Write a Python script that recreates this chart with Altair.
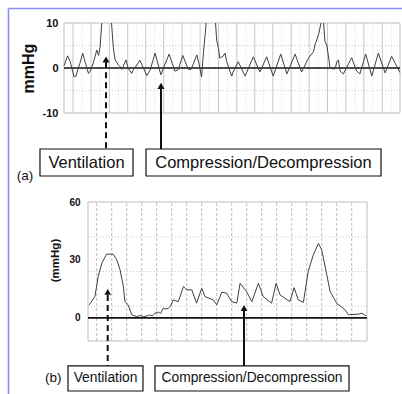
import altair as alt
import pandas as pd

FONT = "Liberation Sans"

# ---------------- Panel (a): pressure trace (time s, mmHg) ----------------
# seg splits the trace where it leaves the top of the scale (ventilation spikes)
a_t = [0.00, 0.10, 0.17, 0.28, 0.33, 0.39, 0.44, 0.52, 0.58, 0.68, 0.72, 0.81, 0.91, 0.96, 1.00, 1.05,
       1.32, 1.37, 1.42, 1.51, 1.56, 1.61, 1.72, 1.78, 1.88, 1.92, 2.11, 2.30, 2.39, 2.53, 2.69, 2.92,
       3.08, 3.17, 3.30, 3.45, 3.53, 3.69, 3.75, 3.82, 3.88, 3.95,
       4.21, 4.24, 4.29, 4.33, 4.42, 4.47, 4.52, 4.61, 4.66, 4.69, 4.84, 5.03, 5.26, 5.44, 5.63, 5.81,
       6.02, 6.19, 6.42, 6.60, 6.79, 6.93, 6.97, 7.07, 7.14,
       7.21, 7.25, 7.30, 7.34, 7.39, 7.47, 7.53, 7.58, 7.62, 7.67, 7.76, 7.99, 8.13, 8.22, 8.38, 8.55,
       8.73, 8.92, 9.10, 9.33]
a_v = [0.5, 2.7, 1.5, -2.0, -1.8, -0.2, 1.0, 3.3, 1.5, -1.2, -0.8, 1.0, 4.0, 2.8, 4.5, 10.0,
       10.0, 4.5, 1.8, 0.7, 0.3, -0.3, 1.8, 0.0, -1.2, -0.5, 1.7, -1.7, -0.5, 3.3, -1.5, 3.1,
       -0.7, -0.4, 2.8, -0.3, -0.3, 2.9, 1.0, -2.0, 4.0, 10.0,
       10.0, 6.2, 4.4, 2.2, 2.6, 3.3, 1.4, -0.7, -1.8, -1.0, 1.4, -1.8, 2.5, -0.9, 2.5, -1.8,
       3.1, -1.3, 3.1, -0.9, 2.2, 3.6, 5.1, 7.4, 10.0,
       10.0, 5.8, 5.1, 2.9, 0.0, -0.2, -0.2, 1.4, 1.8, -0.7, -1.3, 2.3, -0.7, -1.3, 3.1, -1.8,
       3.3, -1.1, 2.6, -1.0]
a_seg = [0] * 16 + [1] * 26 + [2] * 25 + [3] * 20

a_ticks = [-10, 0, 10]
a_hgrid = [-5, 5]
a_vgrid = [0.25, 0.75, 1.26, 1.77, 2.27, 2.77, 3.28, 3.78, 4.29, 4.80, 5.30, 5.80, 6.31, 6.81,
           7.32, 7.83, 8.33, 8.84]
a_vminor = [0.50, 1.00, 1.51, 2.02, 2.52, 3.02, 3.53, 4.03, 4.54, 5.05, 5.55, 6.05, 6.56, 7.06,
            7.57, 8.08, 8.58, 9.09]

# ---------------- Panel (b): pressure trace (time s, mmHg) ----------------
b_t = [0.04, 0.23, 0.34, 0.46, 0.62, 0.84, 0.96, 1.07, 1.18, 1.23, 1.34, 1.46, 1.62, 1.75, 1.85,
       1.96, 2.05, 2.15, 2.23, 2.35, 2.42, 2.51, 2.60, 2.68, 2.75, 2.84, 3.01, 3.18, 3.29, 3.46,
       3.62, 3.79, 3.90, 4.18, 4.29, 4.46, 4.62, 4.79, 4.96, 5.07, 5.29, 5.46, 5.68, 5.84, 6.12,
       6.27, 6.40, 6.73, 6.87, 7.01, 7.18, 7.34, 7.51, 7.68, 7.79, 7.96, 8.07, 8.29, 8.57, 8.68,
       9.01, 9.13, 9.27]
b_v = [6.7, 11.0, 21.4, 28.3, 33.0, 33.0, 30.0, 24.8, 16.2, 8.4, 6.7, 1.5, 0.7, 1.2, 0.6,
       1.0, 1.5, 1.0, 2.4, 3.0, 2.2, 5.0, 4.5, 5.0, 6.0, 9.3, 8.4, 16.2, 14.5, 14.5,
       7.6, 15.3, 11.0, 9.3, 6.7, 13.3, 12.8, 8.4, 7.6, 17.9, 13.5, 8.4, 17.9, 11.0, 7.6,
       17.9, 11.9, 8.4, 15.6, 9.3, 8.0, 24.0, 32.6, 38.6, 35.2, 22.3, 13.6, 7.6, 4.1, 1.6,
       1.9, 2.4, 1.0]

b_ticks = [0, 30, 60]
b_hgrid = [6, 24, 42]
b_vgrid = [0.29, 0.79, 1.29, 1.79, 2.29, 2.79, 3.29, 3.79, 4.29, 4.79, 5.29, 5.79, 6.29, 6.79,
           7.29, 7.79, 8.29, 8.79]

# ---------------- annotations ----------------
labels = ["Ventilation", "Compression/Decompression"]
a_arrow_t = [1.167, 2.694]
a_arrow_tip = [1.9, -3.96]
a_arrow_top = [1.3, -4.4]
a_box_t1 = [-0.667, 2.278]
a_box_t2 = [1.917, 8.806]
a_box_mid = [0.625, 5.54]
b_arrow_t = [0.657, 5.2]
b_arrow_tip = [13.4, 5.1]
b_arrow_top = [11.8, 3.7]
b_box_t1 = [-0.667, 2.233]
b_box_t2 = [1.833, 8.7]
b_box_mid = [0.583, 5.467]


def panel(tag, t, v, seg, xdom, xrng, ydom, yrng, ticks, hgrid, vgrid, vminor, vstyle,
          axis_off, lab_pad, lab_size, title, title_size, title_x, title_y,
          arrow_t, arrow_tip, arrow_top, box_t1, box_t2, box_mid, box_v1, box_v2,
          text_size, tag_t, tag_v, tri_size):
    xs = alt.Scale(domain=xdom, range=xrng)
    ys = alt.Scale(domain=ydom, range=yrng)
    yax = alt.Axis(values=ticks, orient="left", offset=axis_off, title=title, grid=False,
                   domain=False, ticks=False, tickSize=0, labelPadding=lab_pad, labelFlush=False,
                   labelExpr="'' + datum.value",
                   labelFont=FONT, labelFontSize=lab_size, labelFontWeight="bold",
                   labelColor="#111", titleFont=FONT, titleFontSize=title_size,
                   titleFontWeight="bold", titleColor="#111", titleAngle=270,
                   titleX=title_x, titleY=title_y, titleAlign="center", titleBaseline="middle")

    def X(f="t"):
        return alt.X(f + ":Q", scale=xs, axis=None)

    def Y(f="v"):
        return alt.Y(f + ":Q", scale=ys, axis=yax)

    layers = []
    if vminor:
        d = pd.DataFrame({"t": vminor, "v": ydom[0], "v2": ydom[1]})
        layers.append(alt.Chart(d).mark_rule(color="#d4d4d4", strokeWidth=0.8, strokeDash=[1, 2])
                      .encode(x=X(), y=Y(), y2="v2:Q"))
    d = pd.DataFrame({"t": vgrid, "v": ydom[0], "v2": ydom[1]})
    layers.append(alt.Chart(d).mark_rule(**vstyle).encode(x=X(), y=Y(), y2="v2:Q"))
    d = pd.DataFrame({"v": hgrid, "t": xdom[0], "t2": xdom[1]})
    layers.append(alt.Chart(d).mark_rule(color="#c4c4c4", strokeWidth=0.9, strokeDash=[1, 2])
                  .encode(x=X(), x2="t2:Q", y=Y()))
    d = pd.DataFrame({"t": [xdom[0]], "t2": [xdom[1]], "v": [ydom[0]], "v2": [ydom[1]]})
    layers.append(alt.Chart(d).mark_rect(fillOpacity=0, stroke="#bdbdbd", strokeWidth=1)
                  .encode(x=X(), x2="t2:Q", y=Y(), y2="v2:Q"))
    d = pd.DataFrame({"t": [xdom[0]], "t2": [xdom[1]], "v": [0]})
    layers.append(alt.Chart(d).mark_rule(color="#111", strokeWidth=1.6)
                  .encode(x=X(), x2="t2:Q", y=Y()))
    d = pd.DataFrame({"t": t, "v": v, "seg": seg})
    layers.append(alt.Chart(d).mark_line(color="#404040", strokeWidth=1)
                  .encode(x=X(), y=Y(), detail="seg:N"))
    # arrows
    d = pd.DataFrame({"t": [arrow_t[0]], "v": [arrow_top[0]], "v2": [box_v1]})
    layers.append(alt.Chart(d).mark_rule(color="#111", strokeWidth=2, strokeDash=[6, 4])
                  .encode(x=X(), y=Y(), y2="v2:Q"))
    d = pd.DataFrame({"t": [arrow_t[1]], "v": [arrow_top[1]], "v2": [box_v1]})
    layers.append(alt.Chart(d).mark_rule(color="#111", strokeWidth=2)
                  .encode(x=X(), y=Y(), y2="v2:Q"))
    d = pd.DataFrame({"t": arrow_t, "v": arrow_tip})
    layers.append(alt.Chart(d).mark_point(shape="triangle-up", filled=True, size=tri_size,
                                          color="#111", opacity=1)
                  .encode(x=X(), y=Y()))
    # boxes
    d = pd.DataFrame({"t": box_t1, "t2": box_t2, "v": box_v1, "v2": box_v2})
    layers.append(alt.Chart(d).mark_rect(fill="white", stroke="#111", strokeWidth=1.2)
                  .encode(x=X(), x2="t2:Q", y=Y(), y2="v2:Q"))
    d = pd.DataFrame({"t": box_mid, "v": (box_v1 + box_v2) / 2, "label": labels})
    layers.append(alt.Chart(d).mark_text(font=FONT, fontSize=text_size, color="#111",
                                         baseline="middle", align="center")
                  .encode(x=X(), y=Y(), text="label:N"))
    d = pd.DataFrame({"t": [tag_t], "v": [tag_v], "label": [tag]})
    layers.append(alt.Chart(d).mark_text(font=FONT, fontSize=13.5, color="#111",
                                         baseline="middle", align="center")
                  .encode(x=X(), y=Y(), text="label:N"))
    return alt.layer(*layers)


panel_a = panel("(a)", a_t, a_v, a_seg, [0, 9.333], [64, 400], [-10, 10], [113, 23],
                a_ticks, a_hgrid, a_vgrid, a_vminor,
                dict(color="#c6c6c6", strokeWidth=1),
                -64, 6, 11, "mmHg", 16, -36, 68,
                a_arrow_t, a_arrow_tip, a_arrow_top, a_box_t1, a_box_t2, a_box_mid, -18.0, -24.0,
                16.5, -1.083, -24.0, 50)

b_seg = [0] * len(b_t)
panel_b = panel("(b)", b_t, b_v, b_seg, [0, 9.3], [88, 367], [-12, 60], [341, 202],
                b_ticks, b_hgrid, b_vgrid, None,
                dict(color="#bdbdbd", strokeWidth=1, strokeDash=[3, 2]),
                -88, 8, 10, "(mmHg)", 11.5, -33, 260,
                b_arrow_t, b_arrow_tip, b_arrow_top, b_box_t1, b_box_t2, b_box_mid, -24.9, -37.9,
                13.8, -1.157, -31.2, 45)

frame_df = pd.DataFrame({"k": [0]})
frame = alt.layer(
    alt.Chart(frame_df).mark_rule(color="#8c8cf5", strokeWidth=1.6)
    .encode(x=alt.value(8.5), y=alt.value(8.5), y2=alt.value(394)),
    alt.Chart(frame_df).mark_rule(color="#8c8cf5", strokeWidth=1.6)
    .encode(x=alt.value(8.5), x2=alt.value(402), y=alt.value(8.5)),
)

chart = (
    alt.layer(panel_a, panel_b, frame)
    .resolve_scale(x="independent", y="independent")
    .properties(width=402, height=394, padding=0, autosize="none", background="white")
    .configure_view(stroke=None)
)

chart.save("out.html", embed_options={"renderer": "svg", "actions": False})
